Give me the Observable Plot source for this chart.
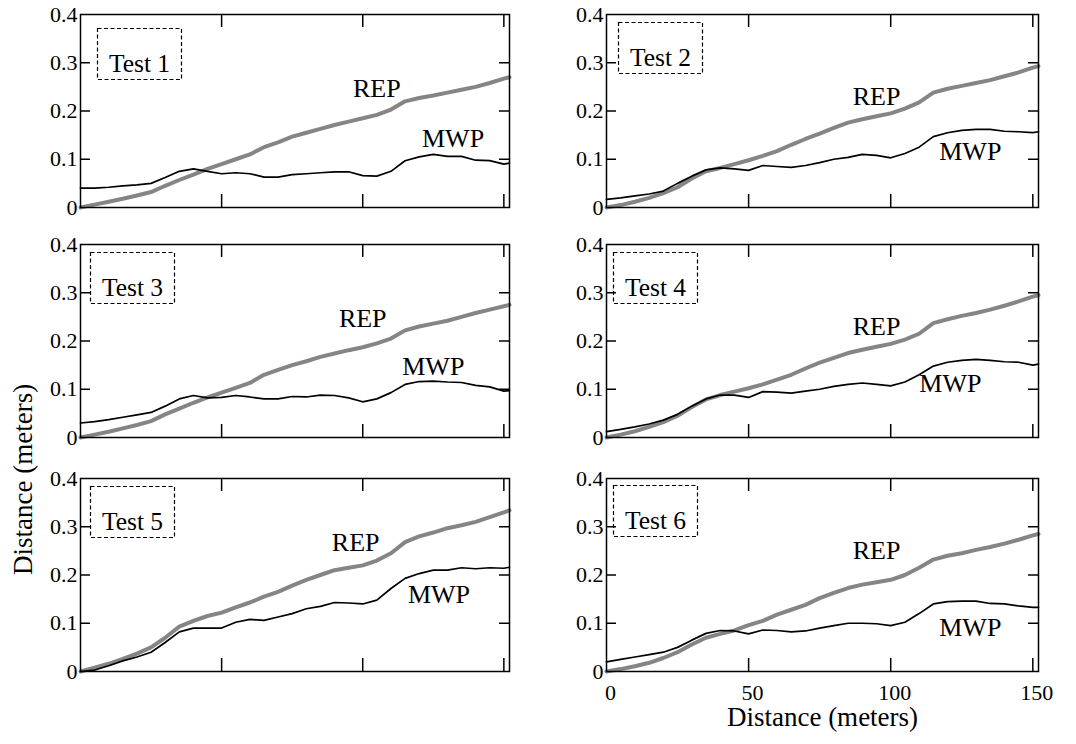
<!DOCTYPE html>
<html><head><meta charset="utf-8">
<script src="https://cdn.jsdelivr.net/npm/d3@7"></script>
<script src="https://cdn.jsdelivr.net/npm/@observablehq/plot@0.6"></script>
<style>
html,body{margin:0;padding:0;background:#fff;}
#chart{position:relative;width:1076px;height:744px;overflow:hidden;}
#chart svg{position:absolute;font-family:"Liberation Serif","Times New Roman",serif !important;}
#chart svg text{font-family:"Liberation Serif","Times New Roman",serif !important;}
</style></head><body><div id="chart"></div>
<script>
// ---- data ----
const distance = [0,5,10,15,20,25,30,35,40,45,50,55,60,65,70,75,80,85,90,95,100,105,110,115,120,125,130,135,140,145,150,152];
const testNames = ["Test 1","Test 2","Test 3","Test 4","Test 5","Test 6"];
const rep1 = [0,0.006,0.012,0.018,0.025,0.032,0.045,0.057,0.068,0.08,0.09,0.1,0.11,0.125,0.135,0.147,0.155,0.163,0.171,0.178,0.185,0.192,0.203,0.22,0.227,0.232,0.238,0.244,0.25,0.258,0.267,0.27];
const mwp1 = [0.04,0.04,0.042,0.045,0.047,0.05,0.062,0.075,0.08,0.075,0.07,0.072,0.07,0.063,0.063,0.068,0.07,0.072,0.074,0.074,0.066,0.065,0.075,0.097,0.105,0.11,0.106,0.106,0.098,0.097,0.09,0.092];
const rep2 = [0,0.005,0.012,0.02,0.03,0.042,0.06,0.075,0.082,0.09,0.098,0.107,0.117,0.13,0.142,0.153,0.165,0.176,0.183,0.189,0.195,0.205,0.218,0.238,0.246,0.252,0.258,0.264,0.272,0.28,0.29,0.293];
const mwp2 = [0.017,0.02,0.024,0.028,0.034,0.05,0.065,0.078,0.082,0.08,0.077,0.087,0.085,0.083,0.087,0.093,0.1,0.104,0.11,0.108,0.103,0.112,0.125,0.147,0.155,0.16,0.162,0.162,0.158,0.157,0.155,0.157];
const rep3 = [0,0.006,0.012,0.019,0.026,0.034,0.048,0.06,0.072,0.083,0.093,0.103,0.113,0.13,0.14,0.15,0.158,0.167,0.174,0.181,0.187,0.195,0.205,0.222,0.23,0.236,0.242,0.25,0.258,0.265,0.272,0.275];
const mwp3 = [0.03,0.033,0.037,0.042,0.047,0.052,0.065,0.08,0.087,0.082,0.083,0.087,0.084,0.08,0.08,0.085,0.084,0.088,0.087,0.082,0.074,0.08,0.093,0.11,0.116,0.117,0.115,0.114,0.108,0.105,0.096,0.097];
const rep4 = [0,0.006,0.013,0.022,0.032,0.045,0.063,0.079,0.088,0.095,0.102,0.11,0.12,0.13,0.143,0.155,0.165,0.175,0.182,0.188,0.194,0.203,0.215,0.237,0.245,0.252,0.258,0.265,0.273,0.282,0.292,0.295];
const mwp4 = [0.012,0.017,0.022,0.028,0.036,0.048,0.065,0.08,0.088,0.088,0.083,0.095,0.094,0.092,0.096,0.1,0.106,0.11,0.113,0.11,0.107,0.115,0.13,0.148,0.156,0.16,0.162,0.16,0.157,0.156,0.15,0.152];
const rep5 = [0,0.008,0.016,0.026,0.037,0.05,0.07,0.093,0.105,0.115,0.122,0.133,0.143,0.155,0.165,0.178,0.19,0.2,0.21,0.215,0.22,0.23,0.245,0.268,0.28,0.288,0.297,0.303,0.31,0.32,0.33,0.334];
const mwp5 = [0,0.003,0.012,0.022,0.03,0.04,0.06,0.082,0.09,0.09,0.09,0.102,0.108,0.106,0.113,0.12,0.13,0.135,0.143,0.142,0.14,0.148,0.172,0.193,0.203,0.21,0.21,0.215,0.213,0.215,0.214,0.216];
const rep6 = [0,0.005,0.011,0.018,0.028,0.04,0.056,0.07,0.078,0.085,0.096,0.105,0.118,0.128,0.138,0.152,0.163,0.173,0.18,0.185,0.19,0.2,0.215,0.232,0.24,0.245,0.252,0.258,0.265,0.273,0.282,0.285];
const mwp6 = [0.02,0.025,0.03,0.035,0.04,0.05,0.065,0.079,0.085,0.084,0.078,0.086,0.085,0.082,0.084,0.09,0.095,0.1,0.1,0.099,0.095,0.102,0.12,0.14,0.145,0.146,0.146,0.141,0.14,0.136,0.133,0.133];
// series label anchors (data units)
const repLabelX = [105, 95, 100, 95, 97.5, 95];
const repLabelY = [0.247, 0.229, 0.247, 0.229, 0.268, 0.25];
const mwpLabelX = [132, 128, 125, 121, 127, 128];
const mwpLabelY = [0.143, 0.115, 0.146, 0.111, 0.159, 0.09];
const yTicks = [0, 0.1, 0.2, 0.3, 0.4];
const yTickLabels = ["0", "0.1", "0.2", "0.3", "0.4"];
const xTicks = [0, 50, 100, 150];
const xTickLabels = ["0", "50", "100", "150"];
const axisTitle = "Distance (meters)";

const repSeries = [rep1, rep2, rep3, rep4, rep5, rep6];
const mwpSeries = [mwp1, mwp2, mwp3, mwp4, mwp5, mwp6];

// ---- layout ----
const FONT = '"Liberation Serif", "Times New Roman", serif';
const cols = [{left: 0, w: 538, ml: 80, mr: 29}, {left: 538, w: 538, ml: 68, mr: 38}];
const rows = [{top: 0, h: 225, mt: 14, mb: 18}, {top: 225, h: 233, mt: 19, mb: 21}, {top: 458, h: 286, mt: 20, mb: 73}];
const boxOffsets = [[17, 14], [12, 8], [10, 8], [7, 8], [10, 8], [7, 7]];
const BOX_W = 84, BOX_H = 51;

const chart = document.getElementById("chart");

for (let k = 0; k < 6; k++) {
  const c = cols[k % 2], r = rows[Math.floor(k / 2)];
  const pw = c.w - c.ml - c.mr, ph = r.h - r.mt - r.mb;
  const table = distance.map((d, i) => ({d, rep: repSeries[k][i], mwp: mwpSeries[k][i]}));
  const [bx, by] = boxOffsets[k];
  const inner = yTicks.slice(1, -1);
  const innerX = xTicks.slice(1);
  const marks = [
    Plot.line(table, {x: "d", y: "rep", stroke: "#858585", strokeWidth: 4, strokeLinejoin: "round"}),
    Plot.line(table, {x: "d", y: "mwp", stroke: "#000", strokeWidth: 1.7}),
    Plot.tickY(inner, {y: d => d, insetRight: pw - 10, stroke: "#000", strokeWidth: 1.5}),
    Plot.tickY(inner, {y: d => d, insetLeft: pw - 10, stroke: "#000", strokeWidth: 1.5}),
    Plot.tickX(innerX, {x: d => d, insetTop: ph - 13, stroke: "#000", strokeWidth: 1.5}),
    Plot.tickX(innerX, {x: d => d, insetBottom: ph - 13, stroke: "#000", strokeWidth: 1.5}),
    Plot.frame({stroke: "#000", strokeWidth: 1.5}),
    Plot.axisY({anchor: "left", ticks: yTicks, tickSize: 0, tickPadding: 3, label: null,
      tickFormat: d => yTickLabels[yTicks.indexOf(d)], fontSize: 22, fontFamily: FONT, fill: "#000"}),
    Plot.frame({insetLeft: bx, insetTop: by, insetRight: pw - bx - BOX_W, insetBottom: ph - by - BOX_H,
      stroke: "#000", strokeWidth: 1.2, strokeDasharray: "4,2.5"}),
    Plot.text([testNames[k]], {text: d => d, frameAnchor: "top-left", dx: bx + BOX_W / 2, dy: by + BOX_H / 2,
      textAnchor: "middle", fontSize: 25.5, fontFamily: FONT, fill: "#000"}),
    Plot.text([{x: repLabelX[k], y: repLabelY[k], t: "REP"}], {x: "x", y: "y", text: "t", fontSize: 26, fontFamily: FONT, fill: "#000"}),
    Plot.text([{x: mwpLabelX[k], y: mwpLabelY[k], t: "MWP"}], {x: "x", y: "y", text: "t", fontSize: 26, fontFamily: FONT, fill: "#000"})
  ];
  if (k === 4) {
    marks.push(Plot.text([axisTitle], {text: d => d, frameAnchor: "left", dx: -57, rotate: -90,
      fontSize: 27, fontFamily: FONT, fill: "#000"}));
  }
  if (k === 5) {
    marks.push(Plot.axisX({anchor: "bottom", ticks: xTicks, tickSize: 0, tickPadding: 13, dx: 4, label: null,
      tickFormat: d => xTickLabels[xTicks.indexOf(d)], fontSize: 22, fontFamily: FONT, fill: "#000"}));
    marks.push(Plot.text([axisTitle], {text: d => d, frameAnchor: "bottom", dy: 54,
      fontSize: 27, fontFamily: FONT, fill: "#000"}));
  }
  const svg = Plot.plot({
    width: c.w, height: r.h,
    marginLeft: c.ml, marginRight: c.mr, marginTop: r.mt, marginBottom: r.mb,
    x: {domain: [0, 152], axis: null},
    y: {domain: [0, 0.4], axis: null},
    style: {background: "transparent", "font-family": FONT, overflow: "visible", color: "#000"},
    marks
  });
  svg.style.left = c.left + "px";
  svg.style.top = r.top + "px";
  chart.appendChild(svg);
}
</script></body></html>
